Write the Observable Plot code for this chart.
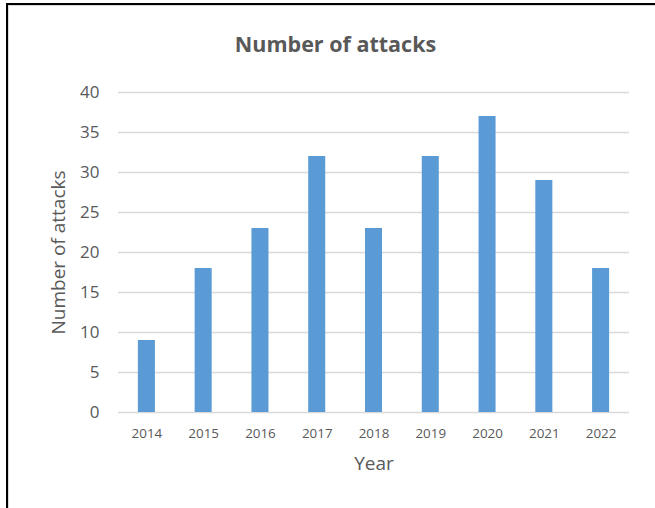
<!DOCTYPE html>
<html>
<head>
<meta charset="utf-8">
<script src="https://cdn.jsdelivr.net/npm/d3@7"></script>
<script src="https://cdn.jsdelivr.net/npm/@observablehq/plot@0.6"></script>
<style>
  html, body { margin: 0; padding: 0; background: #fff; overflow: hidden; }
  #frame { position: absolute; left: 6px; top: 3px; width: 700px; height: 600px; border: 2px solid #000; box-sizing: border-box; }
  #inner { position: absolute; left: 8px; top: 5px; width: 700px; height: 600px; border: 1px solid #d9d9d9; box-sizing: border-box; }
  #chart { position: absolute; left: 0; top: 0; }
  #chart svg { background: transparent; }
</style>
</head>
<body>
<div id="frame"></div>
<div id="inner"></div>
<div id="chart"></div>
<script>
const years = ["2014","2015","2016","2017","2018","2019","2020","2021","2022"];
const attacks = [9, 18, 23, 32, 23, 32, 37, 29, 18];
const yTicks = [0, 5, 10, 15, 20, 25, 30, 35, 40];
const title = "Number of attacks";
const yLabel = "Number of attacks";
const xLabel = "Year";

const data = years.map((y, i) => ({year: y, value: attacks[i]}));
const font = "'Open Sans', sans-serif";
const textColor = "#595959";

const chart = Plot.plot({
  width: 655,
  height: 508,
  marginLeft: 118,
  marginRight: 26,
  marginTop: 92,
  marginBottom: 96,
  style: {fontFamily: font, color: textColor, background: "transparent"},
  x: {domain: years, paddingInner: 0.7, paddingOuter: 0.35, round: false, label: null},
  y: {domain: [0, 40], label: null},
  marks: [
    Plot.ruleY(yTicks, {stroke: "#d9d9d9", strokeWidth: 1.5}),
    Plot.barY(data, {x: "year", y: "value", fill: "#5b9bd5"}),
    Plot.axisY({ticks: yTicks, tickSize: 0, tickPadding: 19, fontSize: 17, fill: textColor, label: null}),
    Plot.axisX({tickSize: 0, tickPadding: 16, fontSize: 13.4, fill: textColor, label: null}),
    Plot.text([yLabel], {frameAnchor: "left", dx: -60, rotate: -90, textAnchor: "middle", lineAnchor: "middle", text: d => d, fontSize: 19, fill: textColor}),
    Plot.text([xLabel], {frameAnchor: "bottom", dy: 51, lineAnchor: "middle", text: d => d, fontSize: 19, fill: textColor}),
    Plot.text([title], {frameAnchor: "top", dx: -38.5, dy: -47, lineAnchor: "middle", text: d => d, fontSize: 21.5, fontWeight: "bold", fill: textColor})
  ]
});
document.getElementById("chart").appendChild(chart);
</script>
</body>
</html>
